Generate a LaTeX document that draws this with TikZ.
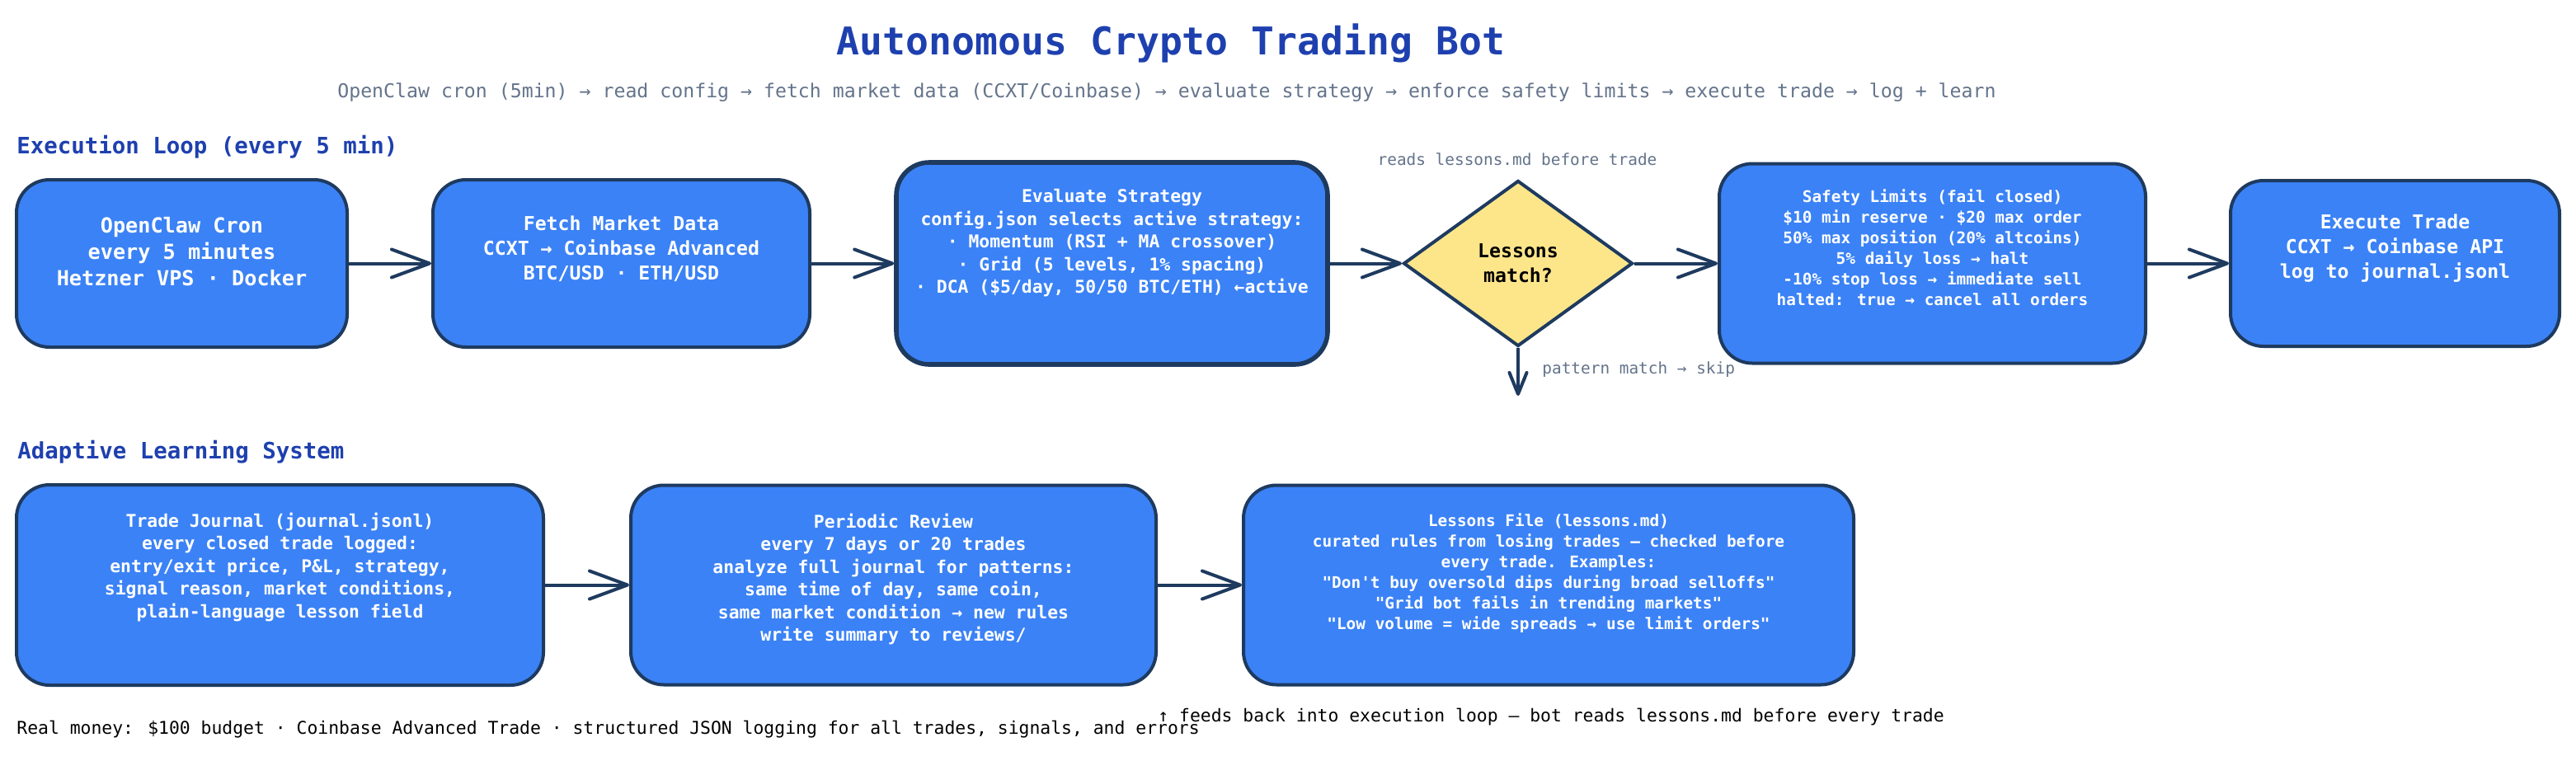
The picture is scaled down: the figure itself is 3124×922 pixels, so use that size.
\documentclass[tikz,border=0pt]{standalone}
\usepackage{fontspec}
\setmainfont{DejaVu Sans Mono}[Ligatures=TeXOff]
\usetikzlibrary{arrows.meta,shapes.geometric}

\definecolor{boxblue}{HTML}{3B82F6}
\definecolor{navy}{HTML}{1E3A5F}
\definecolor{headblue}{HTML}{1E40AF}
\definecolor{slate}{HTML}{64748B}
\definecolor{lessonyellow}{HTML}{FDE68A}

\newcommand\sizeA{\bfseries\fontsize{12.6}{16}\selectfont}
\newcommand\sizeB{\bfseries\fontsize{11.6}{15}\selectfont}
\newcommand\sizeC{\bfseries\fontsize{10.7}{13.75}\selectfont}
\newcommand\sizeD{\bfseries\fontsize{9.7}{12.5}\selectfont}

\tikzset{
  box/.style={draw=navy, line width=2pt, fill=boxblue, rounded corners=20pt, inner sep=0pt},
  btext/.style={text=white, align=center, inner sep=0pt},
  flow/.style={draw=navy, line width=2pt, -{Straight Barb[length=23pt,width=17pt,round]}},
  note/.style={text=slate, font=\fontsize{9.7}{12}\selectfont, inner sep=0pt},
  head/.style={text=headblue, font=\bfseries\fontsize{13.7}{16}\selectfont, anchor=west, inner sep=0pt},
  foot/.style={text=black, font=\fontsize{10.7}{13}\selectfont, anchor=west, inner sep=0pt},
}

\begin{document}
\begin{tikzpicture}[x=0.5pt, y=-0.5pt]
    \fill[white] (0,0) rectangle (3124,922);
    \useasboundingbox (0,0) rectangle (3124,922);

    \node[text=headblue, font=\bfseries\fontsize{23.2}{28}\selectfont] (title) at (1420,52) {Autonomous Crypto Trading Bot};
    \node[text=slate, font=\fontsize{11.6}{14}\selectfont] (subtitle) at (1415,112)
        {OpenClaw cron (5min) → read config → fetch market data (CCXT/Coinbase) → evaluate strategy → enforce safety limits → execute trade → log + learn};

    \node[head] (loophead) at (20,178) {Execution Loop (every 5 min)};
    \node[head] (learnhead) at (21,548) {Adaptive Learning System};

    \node[box, minimum width=200.5pt, minimum height=101.5pt] (cron) at (220.5,319.5) {};
    \node[box, minimum width=228.5pt, minimum height=101.5pt] (fetch) at (753.5,319.5) {};
    \node[box, line width=2.8pt, minimum width=261.5pt, minimum height=122.5pt] (strat) at (1348.5,319.5) {};
    \node[diamond, draw=navy, line width=2pt, fill=lessonyellow, minimum width=139pt, minimum height=100.5pt,
          inner sep=0pt, align=center, text=black, font=\sizeB] (lessons) at (1841,319.5) {Lessons\\match?};
    \node[box, minimum width=258.5pt, minimum height=121pt] (safety) at (2343.5,319.5) {};
    \node[box, minimum width=199.5pt, minimum height=100.5pt] (exec) at (2904.5,319.5) {};

    \node[btext, font=\sizeA] (cron-t) at (220.5,305) {OpenClaw Cron\\every 5 minutes\\Hetzner VPS · Docker};
    \node[btext, font=\sizeB] (fetch-t) at (753.5,302) {Fetch Market Data\\CCXT → Coinbase Advanced\\BTC/USD · ETH/USD};
    \node[btext, font=\sizeC] (strat-t) at (1348.5,295) {Evaluate Strategy\\config.json selects active strategy:\\· Momentum (RSI + MA crossover)\\· Grid (5 levels, 1\% spacing)\\· DCA (\$5/day, 50/50 BTC/ETH) ←active};
    \node[btext, font=\sizeD] (safety-t) at (2343.5,300.5) {Safety Limits (fail closed)\\\$10 min reserve · \$20 max order\\50\% max position (20\% altcoins)\\5\% daily loss → halt\\-10\% stop loss → immediate sell\\halted: true → cancel all orders};
    \node[btext, font=\sizeB] (exec-t) at (2904.5,301) {Execute Trade\\CCXT → Coinbase API\\log to journal.jsonl};

    \node[note] (reads) at (1840,193) {reads lessons.md before trade};
    \node[note, anchor=west] (skiplbl) at (1870,448) {pattern match → skip};
    \coordinate (skip) at (1841,480);

    \draw[flow] (cron) -- (fetch);
    \draw[flow] (fetch) -- (strat);
    \draw[flow] (strat) -- (lessons);
    \draw[flow] (lessons) -- (safety);
    \draw[flow] (safety) -- (exec);
    \draw[draw=navy, line width=2pt, -{Straight Barb[length=13pt,width=10.5pt,round]}] (lessons) -- (skip);

    \node[box, minimum width=319.5pt, minimum height=121.5pt] (journal) at (339.5,709.5) {};
    \node[box, minimum width=318.5pt, minimum height=121pt] (review) at (1083.5,709.5) {};
    \node[box, minimum width=370pt, minimum height=121pt] (lfile) at (1878,709.5) {};

    \node[btext, font=\sizeC] (journal-t) at (339.5,688) {Trade Journal (journal.jsonl)\\every closed trade logged:\\entry/exit price, P\&L, strategy,\\signal reason, market conditions,\\plain-language lesson field};
    \node[btext, font=\sizeC] (review-t) at (1083.5,702.5) {Periodic Review\\every 7 days or 20 trades\\analyze full journal for patterns:\\same time of day, same coin,\\same market condition → new rules\\write summary to reviews/};
    \node[btext, font=\sizeD] (lfile-t) at (1878,695.5) {Lessons File (lessons.md)\\curated rules from losing trades — checked before\\every trade. Examples:\\"Don't buy oversold dips during broad selloffs"\\"Grid bot fails in trending markets"\\"Low volume = wide spreads → use limit orders"};

    \draw[flow] (journal) -- (review);
    \draw[flow] (review) -- (lfile);

    \node[foot] (budget) at (20,885) {Real money: \$100 budget · Coinbase Advanced Trade · structured JSON logging for all trades, signals, and errors};
    \node[foot] (feedback) at (1404,870) {↑ feeds back into execution loop — bot reads lessons.md before every trade};
\end{tikzpicture}
\end{document}
